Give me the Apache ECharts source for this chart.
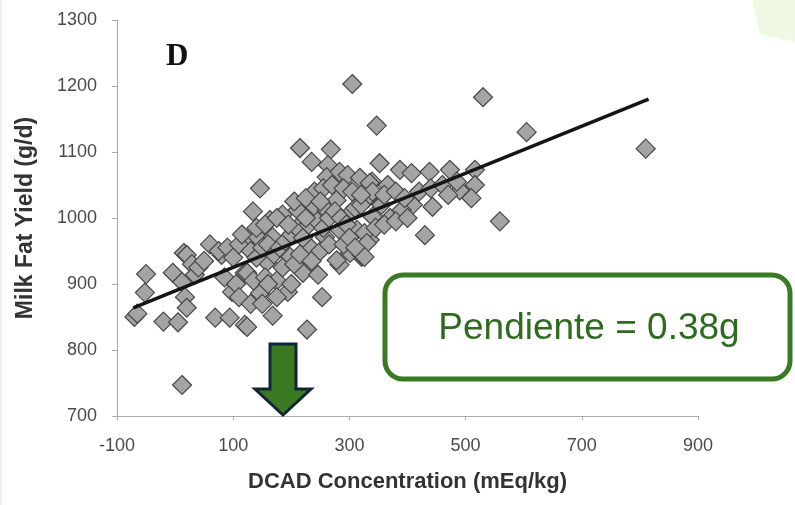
<!DOCTYPE html>
<html>
<head>
<meta charset="utf-8">
<script src="https://cdn.jsdelivr.net/npm/echarts@6/dist/echarts.min.js"></script>
<style>
html,body{margin:0;padding:0;background:#fff;}
#chart{width:795px;height:505px;}
</style>
</head>
<body>
<div id="chart"></div>
<script>
// DCAD concentration (mEq/kg)
const dcad = [
 -70,-65,-50,-52,-20,5,-4,15,20,29,34,12,17,20,12,69,94,120,80,98,120,124,168,227,253,194,146,124,220,246,283,321,
 215,268,235,263,261,283,297,318,339,146,134,278,332,240,211,185,163,261,301,124,142,168,232,258,283,313,335,301,321,278,198,158,
 352,387,407,438,473,516,335,366,490,516,510,330,409,443,390,370,340,559,430,326,330,326,
 305,347,530,605,810,
 60,75,90,100,110,115,130,140,150,160,170,180,190,200,210,220,230,245,255,265,275,285,295,310,320,340,355,360,380,395,420,440,460,470,485,
 40,50,85,105,135,155,175,185,205,215,235,250,265,290,300,310,345,360,380,400,110,130,150,160,175,200,140,155,175,195,225,240,255,270,290,305,320,205,225,250
];
// Milk fat yield (g/d)
const fatYield = [
 850,855,915,887,843,842,917,947,944,930,914,903,880,864,747,849,849,838,944,888,917,835,852,831,880,888,886,917,917,914,929,941,
 1106,1104,1085,1080,1062,1070,1065,1061,1055,1045,1010,1027,1030,1017,1012,1005,997,1012,1007,967,971,971,956,971,982,982,967,947,944,936,941,933,
 1083,1073,1068,1070,1073,1073,1053,1050,1042,1050,1030,1030,1020,1017,1012,1000,1002,995,974,977,962,941,
 1203,1140,1183,1130,1105,
 960,950,955,940,960,975,950,940,955,960,945,955,965,975,985,970,990,995,985,1000,1010,1000,990,1015,1020,1040,1020,1035,1040,1030,1040,1045,1050,1035,1055,
 925,935,910,900,905,910,905,925,930,945,935,950,960,960,970,955,985,990,995,1000,880,870,870,900,880,900,985,990,1000,990,1000,1040,1045,1050,1045,1040,1035,1025,1030,1025
];
// Fitted regression line end points
const fitX = [-72, 815];
const fitY = [864, 1180];
const xTicks = [-100, 100, 300, 500, 700, 900];
const yTicks = [700, 800, 900, 1000, 1100, 1200, 1300];

const points = dcad.map((x, i) => [x, fatYield[i]]);
const fitLine = fitX.map((x, i) => [x, fitY[i]]);

const chart = echarts.init(document.getElementById('chart'), null, {renderer: 'canvas'});
const labelFont = '"Liberation Sans", Arial, sans-serif';
chart.setOption({
  animation: false,
  backgroundColor: '#ffffff',
  grid: {left: 117, right: 97, top: 20, bottom: 89},
  xAxis: {
    type: 'value', min: -100, max: 900, interval: 200,
    name: 'DCAD Concentration (mEq/kg)', nameLocation: 'middle', nameGap: 55,
    nameTextStyle: {fontFamily: labelFont, fontWeight: 'bold', fontSize: 22, color: '#333'},
    axisLine: {show: true, onZero: false, lineStyle: {color: '#aaa', width: 1}},
    axisTick: {show: true, length: 4, lineStyle: {color: '#aaa'}},
    axisLabel: {fontFamily: labelFont, fontSize: 18, color: '#4a4a4a', margin: 21,
      formatter: v => xTicks.includes(v) ? String(v) : ''},
    splitLine: {show: false}
  },
  yAxis: {
    type: 'value', min: 700, max: 1300, interval: 100,
    name: 'Milk Fat Yield (g/d)', nameLocation: 'middle', nameGap: 80, nameRotate: 90,
    nameTextStyle: {fontFamily: labelFont, fontWeight: 'bold', fontSize: 23, color: '#333'},
    axisLine: {show: true, onZero: false, lineStyle: {color: '#aaa', width: 1}},
    axisTick: {show: true, length: 5, lineStyle: {color: '#aaa'}},
    axisLabel: {fontFamily: labelFont, fontSize: 18, color: '#4a4a4a', margin: 20,
      formatter: v => yTicks.includes(v) ? String(v) : ''},
    splitLine: {show: false}
  },
  series: [
    {
      type: 'scatter', data: points, symbol: 'diamond', symbolSize: 19,
      itemStyle: {color: '#a4a4a4', borderColor: '#474747', borderWidth: 1.2, opacity: 1},
      z: 2
    },
    {
      type: 'line', data: fitLine, symbol: 'none',
      lineStyle: {color: '#151515', width: 3.5}, z: 3
    }
  ],
  graphic: [
    {type: 'polygon', shape: {points: [[752,0],[795,0],[795,42],[760,34]]},
     style: {fill: '#eef8e2'}, z: 0},
    {type: 'rect', shape: {x: 0, y: 0, width: 2, height: 505}, style: {fill: '#eef6ea'}},
    {type: 'text', left: 166, top: 41, style: {text: 'D', font: 'bold 31px "Liberation Serif", "Times New Roman", serif', fill: '#111'}, z: 10},
    {type: 'rect', shape: {x: 385, y: 275, width: 405, height: 104, r: 18},
     style: {fill: '#ffffff', stroke: '#3a7a24', lineWidth: 5}, z: 10},
    {type: 'text', x: 589, y: 329, style: {text: 'Pendiente = 0.38g', font: '37px "Liberation Sans", Arial, sans-serif', fill: '#2f6b1f', align: 'center', verticalAlign: 'middle'}, z: 11},
    {type: 'polygon', shape: {points: [[270,344],[296,344],[296,389],[311,389],[283,415],[255,389],[270,389]]},
     style: {fill: '#3b7a23', stroke: '#0f2633', lineWidth: 3, lineJoin: 'miter'}, z: 10}
  ]
});
</script>
</body>
</html>
